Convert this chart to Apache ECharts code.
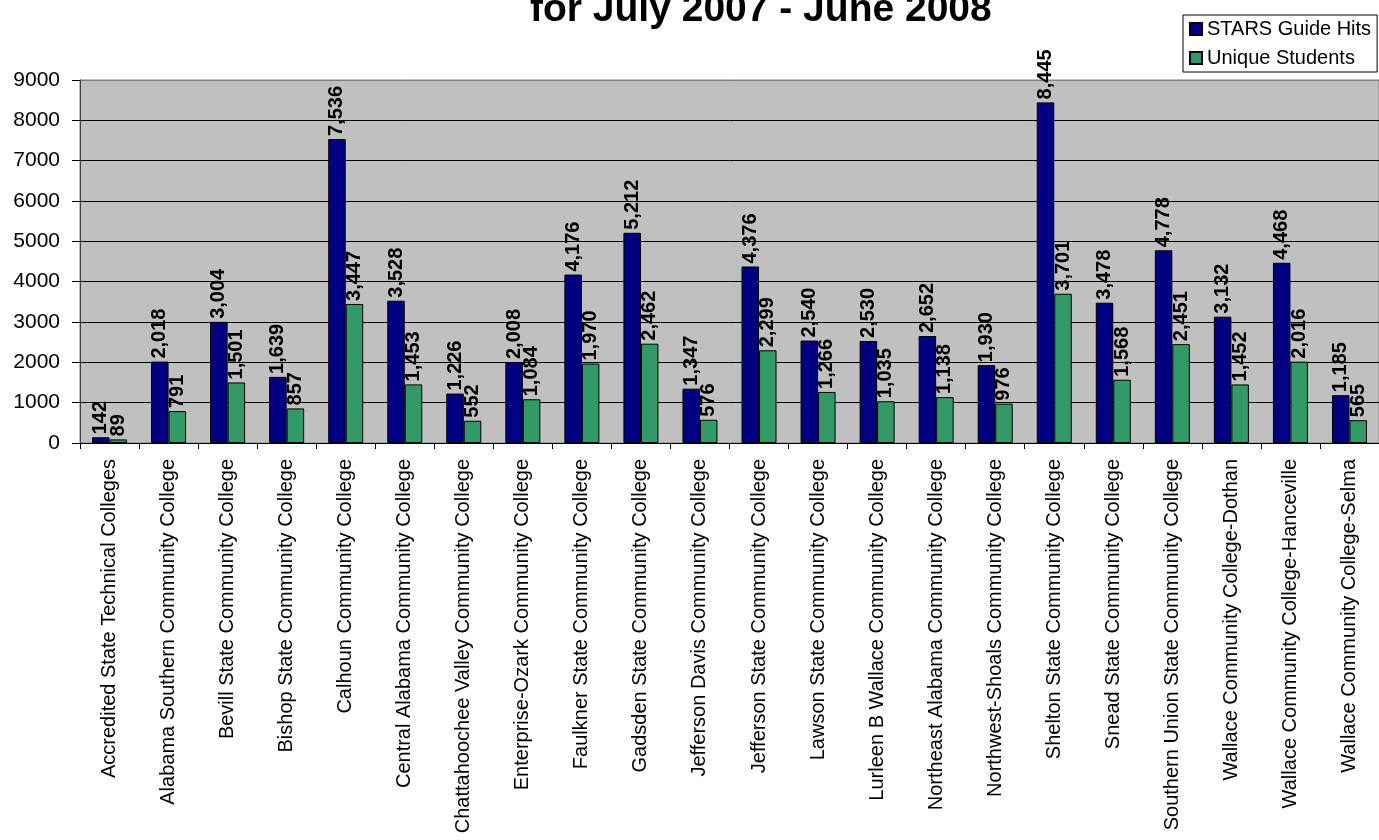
<!DOCTYPE html>
<html>
<head>
<meta charset="utf-8">
<script src="https://cdn.jsdelivr.net/npm/echarts@6/dist/echarts.min.js"></script>
<style>
html,body{margin:0;padding:0;background:#fff;}
#chart{width:1379px;height:840px;}
</style>
</head>
<body>
<div id="chart"></div>
<script>
const titleText = 'for July 2007 - June 2008';
const categories = [
  'Accredited State Technical Colleges',
  'Alabama Southern Community College',
  'Bevill State Community College',
  'Bishop State Community College',
  'Calhoun Community College',
  'Central Alabama Community College',
  'Chattahoochee Valley Community College',
  'Enterprise-Ozark Community College',
  'Faulkner State Community College',
  'Gadsden State Community College',
  'Jefferson Davis Community College',
  'Jefferson State Community College',
  'Lawson State Community College',
  'Lurleen B Wallace Community College',
  'Northeast Alabama Community College',
  'Northwest-Shoals Community College',
  'Shelton State Community College',
  'Snead State Community College',
  'Southern Union State Community College',
  'Wallace Community College-Dothan',
  'Wallace Community College-Hanceville',
  'Wallace Community College-Selma'
];
const seriesNames = ['STARS Guide Hits', 'Unique Students'];
const guideHits = [142, 2018, 3004, 1639, 7536, 3528, 1226, 2008, 4176, 5212, 1347, 4376, 2540, 2530, 2652, 1930, 8445, 3478, 4778, 3132, 4468, 1185];
const uniqueStudents = [89, 791, 1501, 857, 3447, 1453, 552, 1084, 1970, 2462, 576, 2299, 1266, 1035, 1138, 976, 3701, 1568, 2451, 1452, 2016, 565];
const yTicks = [0, 1000, 2000, 3000, 4000, 5000, 6000, 7000, 8000, 9000];

const FONT = 'Arial, "Liberation Sans", sans-serif';
function fmt(v){ return String(v).replace(/\B(?=(\d{3})+(?!\d))/g, ','); }

const chart = echarts.init(document.getElementById('chart'), null, {renderer:'canvas'});
const labelCfg = {
  show: true,
  position: 'top',
  rotate: 90,
  align: 'left',
  verticalAlign: 'middle',
  distance: 3,
  color: '#000',
  fontFamily: FONT,
  fontWeight: 'bold',
  fontSize: 20,
  formatter: p => fmt(p.value)
};
chart.setOption({
  animation: false,
  backgroundColor: '#fff',
  title: {
    text: titleText,
    left: 530,
    top: -9,
    padding: 0,
    textStyle: {fontFamily: FONT, fontWeight: 'bold', fontSize: 39, color: '#000'}
  },
  legend: {
    data: seriesNames,
    orient: 'vertical',
    left: 1183,
    top: 15,
    padding: [4, 6, 4, 6],
    itemGap: 9,
    itemWidth: 12,
    itemHeight: 12,
    icon: 'rect',
    backgroundColor: '#fff',
    borderColor: '#000',
    borderWidth: 1,
    textStyle: {fontFamily: FONT, fontSize: 20, color: '#000'}
  },
  grid: {
    left: 80, right: -7, top: 80, bottom: 397,
    show: true, backgroundColor: '#c0c0c0', borderColor: '#808080', borderWidth: 1,
    containLabel: false
  },
  xAxis: {
    type: 'category',
    data: categories,
    axisLine: {show: true, lineStyle: {color: '#000', width: 1}},
    axisTick: {show: true, length: 6, lineStyle: {color: '#000'}},
    axisLabel: {
      rotate: 90, interval: 0, margin: 16,
      fontFamily: FONT, fontSize: 20, color: '#000'
    }
  },
  yAxis: {
    type: 'value',
    min: yTicks[0], max: yTicks[yTicks.length - 1], interval: 1000,
    axisLine: {show: true, lineStyle: {color: '#404040', width: 1}},
    axisTick: {show: true, length: 8, lineStyle: {color: '#000'}},
    axisLabel: {margin: 20, fontFamily: FONT, fontSize: 21, color: '#000', formatter: v => String(v)},
    splitLine: {show: true, lineStyle: {color: ['#000','#000','#000','#000','#000','#000','#000','#000','#000','#808080'], width: 1}}
  },
  series: [
    {
      name: seriesNames[0], type: 'bar', data: guideHits,
      barWidth: 17.5, barGap: '0%',
      itemStyle: {color: '#000080', borderColor: '#000', borderWidth: 1},
      label: labelCfg
    },
    {
      name: seriesNames[1], type: 'bar', data: uniqueStudents,
      barWidth: 17.5, barGap: '0%',
      itemStyle: {color: '#339966', borderColor: '#000', borderWidth: 1},
      label: labelCfg
    }
  ]
});
</script>
</body>
</html>
